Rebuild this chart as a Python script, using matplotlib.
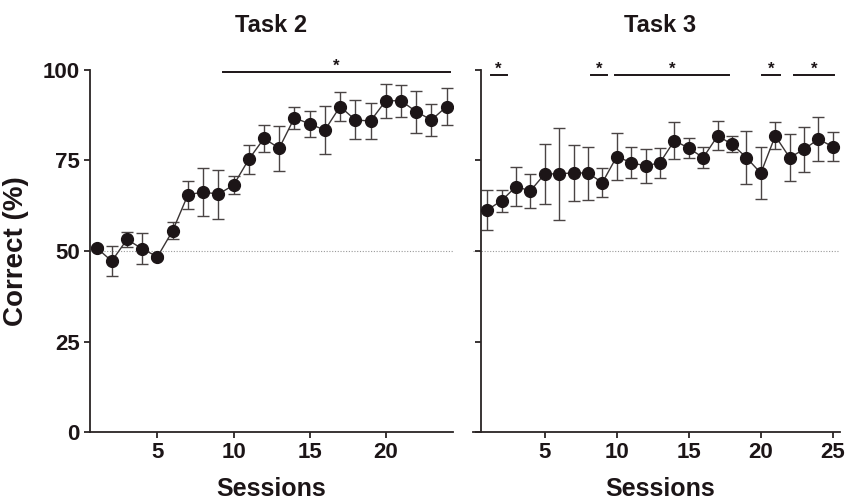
import matplotlib
matplotlib.use('Agg')
import matplotlib.pyplot as plt

plt.rcParams['font.family'] = ['Liberation Sans', 'DejaVu Sans']
plt.rcParams['font.weight'] = 'bold'

# Task 2 : sessions 1..24
task2_sessions = list(range(1, 25))
task2_mean = [50.9, 47.2, 53.2, 50.6, 48.4, 55.6, 65.5, 66.3, 65.7, 68.2, 75.3, 81.1,
              78.4, 86.8, 85.1, 83.4, 89.9, 86.2, 85.9, 91.5, 91.5, 88.5, 86.2, 89.9]
task2_err = [0.6, 4.2, 2.0, 4.3, 0.6, 2.4, 3.8, 6.5, 6.8, 2.5, 4.1, 3.8,
             6.2, 3.1, 3.5, 6.6, 4.1, 5.4, 5.1, 4.7, 4.4, 5.8, 4.5, 5.0]

# Task 3 : sessions 1..25
task3_sessions = list(range(1, 26))
task3_mean = [61.3, 63.9, 67.8, 66.6, 71.3, 71.3, 71.6, 71.5, 68.9, 76.1, 74.4, 73.5, 74.4,
              80.5, 78.4, 75.8, 81.8, 79.5, 75.8, 71.5, 81.8, 75.8, 78.1, 80.9, 78.8]
task3_err = [5.6, 3.0, 5.4, 4.7, 8.3, 12.6, 7.7, 7.3, 3.9, 6.6, 4.3, 4.6, 4.1,
             5.1, 2.7, 2.8, 4.0, 2.2, 7.4, 7.1, 3.7, 6.5, 6.2, 6.0, 4.0]

# significance bars (start session, end session)
task2_sig = [(9.3, 24.2)]
task3_sig = [(1.25, 2.35), (8.2, 9.3), (9.9, 17.8), (20.1, 21.3), (22.3, 25.1)]

chance = 50
yticks = [0, 25, 50, 75, 100]


def draw_panel(ax, sessions, mean, err, sig, title, xlim, xticks, sig_y):
    ax.axhline(chance, color='#9a9a9a', lw=0.8, ls=(0, (1, 1.5)), zorder=1)
    ax.errorbar(sessions, mean, yerr=err, fmt='none', ecolor='#4a4444',
                elinewidth=1.0, capsize=4, capthick=1.0, zorder=2)
    ax.plot(sessions, mean, '-', color='#3a3434', lw=1.0, zorder=3)
    ax.plot(sessions, mean, 'o', color='#1c1517', ms=8.5, zorder=4)
    for a, b in sig:
        ax.plot([a, b], [sig_y, sig_y], color='#1c1517', lw=1.4, clip_on=False)
        ax.text((a + b) / 2, sig_y + 1.6, '*', ha='center', va='center',
                fontsize=12, color='#1c1517', clip_on=False)
    ax.set_xlim(*xlim)
    ax.set_ylim(0, 100)
    ax.set_xticks(xticks)
    ax.set_yticks(yticks)
    ax.spines['top'].set_visible(False)
    ax.spines['right'].set_visible(False)
    for s in ['left', 'bottom']:
        ax.spines[s].set_color('#2a2424')
        ax.spines[s].set_linewidth(1.3)
    ax.tick_params(direction='out', length=4.5, width=1.3, color='#2a2424',
                   labelsize=16, labelcolor='#1c1517', pad=3)
    ax.set_xlabel('Sessions', fontsize=18, fontweight='bold', color='#1c1517', labelpad=10)
    ax.set_title(title, fontsize=17, fontweight='bold', color='#1c1517', pad=27)


fig = plt.figure(figsize=(8.5, 5.01), dpi=100)
ax1 = fig.add_axes([0.1059, 0.1377, 0.4267, 0.7226])
ax2 = fig.add_axes([0.5565, 0.1377, 0.4318, 0.7226])

draw_panel(ax1, task2_sessions, task2_mean, task2_err, task2_sig, 'Task 2',
           (0.57, 24.4), [5, 10, 15, 20], 99.5)
draw_panel(ax2, task3_sessions, task3_mean, task3_err, task3_sig, 'Task 3',
           (0.02, 25.5), [5, 10, 15, 20, 25], 98.6)
# y axis of task 3 sits a little inside the x axis start
ax2.spines['left'].set_position(('data', 0.55))
ax2.set_yticklabels([])
ax2.title.set_x(0.51)
ax2.xaxis.label.set_x(0.51)
ax1.set_ylabel('Correct (%)', fontsize=20, fontweight='bold', color='#1c1517', labelpad=10)

fig.savefig('out.png', dpi=100)
